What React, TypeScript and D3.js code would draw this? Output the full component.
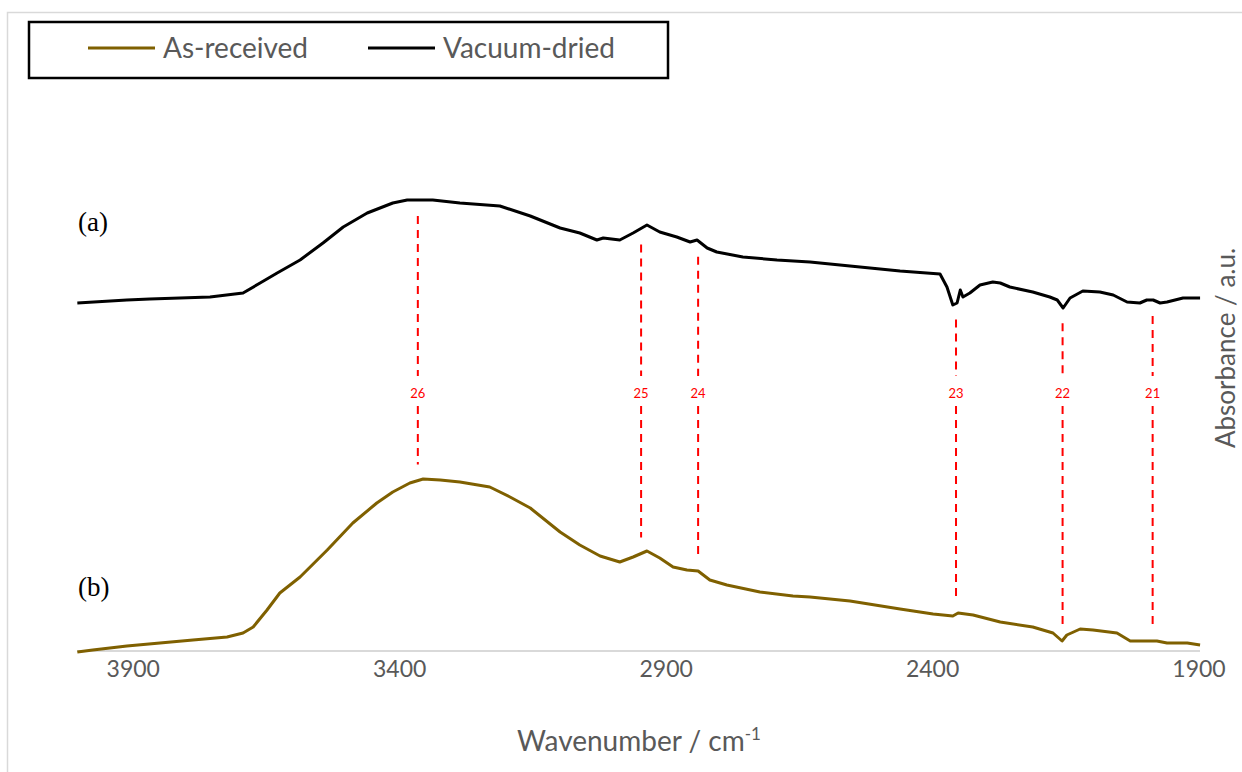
import React, { useEffect, useRef } from "react";
import * as d3 from "d3";

const width = 1242;
const height = 772;

// [wavenumber, absorbance (a.u., offset)]
const vacuumDried: [number, number][] = [
  [4005, 3.48], [3912, 3.51], [3869, 3.52], [3756, 3.54], [3694, 3.58],
  [3662, 3.68], [3630, 3.78], [3587, 3.91], [3544, 4.08], [3506, 4.24],
  [3461, 4.38], [3413, 4.48], [3386, 4.51], [3338, 4.51], [3287, 4.48],
  [3212, 4.45], [3155, 4.35], [3099, 4.23], [3062, 4.18], [3030, 4.11],
  [3018, 4.13], [2987, 4.11], [2962, 4.18], [2936, 4.26], [2912, 4.19],
  [2880, 4.14], [2855, 4.09], [2842, 4.11], [2823, 4.03], [2805, 3.99],
  [2756, 3.94], [2692, 3.91], [2630, 3.89], [2555, 3.85], [2461, 3.8],
  [2386, 3.77], [2373, 3.64], [2362, 3.46], [2354, 3.48], [2348, 3.61],
  [2343, 3.54], [2330, 3.58], [2311, 3.66], [2287, 3.69], [2273, 3.68],
  [2255, 3.64], [2212, 3.59], [2180, 3.54], [2166, 3.51], [2155, 3.43],
  [2142, 3.53], [2118, 3.6], [2086, 3.59], [2061, 3.56], [2035, 3.49],
  [2011, 3.48], [1998, 3.51], [1986, 3.51], [1973, 3.48], [1960, 3.49],
  [1930, 3.53], [1898, 3.53],
];

const asReceived: [number, number][] = [
  [4005, -0.01], [3976, 0.01], [3912, 0.05], [3850, 0.08], [3788, 0.11],
  [3724, 0.14], [3694, 0.18], [3675, 0.24], [3649, 0.41], [3625, 0.58],
  [3587, 0.74], [3536, 1.01], [3488, 1.28], [3443, 1.48], [3413, 1.59],
  [3381, 1.68], [3356, 1.72], [3324, 1.71], [3287, 1.69], [3231, 1.64],
  [3193, 1.54], [3155, 1.43], [3099, 1.19], [3062, 1.06], [3024, 0.95],
  [2987, 0.89], [2962, 0.94], [2936, 1.0], [2912, 0.93], [2887, 0.84],
  [2861, 0.81], [2840, 0.8], [2818, 0.71], [2786, 0.66], [2724, 0.59],
  [2662, 0.55], [2630, 0.54], [2555, 0.5], [2461, 0.42], [2399, 0.37],
  [2362, 0.35], [2352, 0.38], [2324, 0.36], [2273, 0.29], [2212, 0.24],
  [2174, 0.18], [2157, 0.1], [2148, 0.16], [2123, 0.22], [2099, 0.21],
  [2054, 0.18], [2029, 0.1], [1979, 0.1], [1960, 0.08], [1922, 0.08],
  [1898, 0.06],
];

const peakLabels = ["26", "25", "24", "23", "22", "21"];
const peakWavenumbers = [3366, 2947, 2840, 2356, 2156, 1987];

const xTicks = [3900, 3400, 2900, 2400, 1900];

const seriesNames = ["As-received", "Vacuum-dried"];
const seriesColors = ["#7f6000", "#000000"];

const x = d3.scaleLinear().domain([4000, 1900]).range([80, 1199]);
const y = d3.scaleLinear().domain([0, 4.6]).range([651, 191]);

function interp(data: [number, number][], w: number): number {
  for (let i = 0; i < data.length - 1; i++) {
    const [w0, a0] = data[i];
    const [w1, a1] = data[i + 1];
    if (w <= w0 && w >= w1) {
      const t = (w0 - w) / (w0 - w1);
      return a0 + t * (a1 - a0);
    }
  }
  return data[data.length - 1][1];
}

export default function App() {
  const ref = useRef<SVGSVGElement>(null);

  useEffect(() => {
    const svg = d3.select(ref.current);
    svg.selectAll("*").remove();

    const font = "Lato, 'Open Sans', sans-serif";

    // outer frame
    svg
      .append("rect")
      .attr("x", 7.5)
      .attr("y", 12.5)
      .attr("width", 1245)
      .attr("height", 775)
      .attr("fill", "none")
      .attr("stroke", "#d9d9d9")
      .attr("stroke-width", 1.5);

    // axis line
    svg
      .append("line")
      .attr("x1", 77)
      .attr("x2", 1200)
      .attr("y1", y(0))
      .attr("y2", y(0))
      .attr("stroke", "#d9d9d9")
      .attr("stroke-width", 2);

    // tick labels
    svg
      .append("g")
      .selectAll("text")
      .data(xTicks)
      .enter()
      .append("text")
      .attr("x", (d) => x(d))
      .attr("y", 677)
      .attr("text-anchor", "middle")
      .style("font-family", font)
      .style("font-size", "23px")
      .style("fill", "#595959")
      .text((d) => d);

    // axis titles
    const xt = svg
      .append("text")
      .attr("x", 639)
      .attr("y", 751)
      .attr("text-anchor", "middle")
      .style("font-family", font)
      .style("font-size", "28px")
      .style("fill", "#595959");
    xt.append("tspan").text("Wavenumber / cm");
    xt.append("tspan")
      .attr("dy", -11)
      .style("font-size", "17px")
      .text("-1");

    svg
      .append("text")
      .attr("transform", "translate(1235,348) rotate(-90)")
      .attr("text-anchor", "middle")
      .style("font-family", font)
      .style("font-size", "26px")
      .style("fill", "#595959")
      .text("Absorbance / a.u.");

    // peak markers
    const dash = svg.append("g");
    peakWavenumbers.forEach((w, i) => {
      const px = x(w);
      const top = y(interp(vacuumDried, w)) + 16;
      const bottom = y(interp(asReceived, w)) - 16;
      dash
        .append("line")
        .attr("x1", px)
        .attr("x2", px)
        .attr("y1", top)
        .attr("y2", 376)
        .attr("stroke", "#ff0000")
        .attr("stroke-width", 2)
        .attr("stroke-dasharray", "8,6");
      dash
        .append("line")
        .attr("x1", px)
        .attr("x2", px)
        .attr("y1", 406)
        .attr("y2", bottom)
        .attr("stroke", "#ff0000")
        .attr("stroke-width", 2)
        .attr("stroke-dasharray", "8,6");
      dash
        .append("text")
        .attr("x", px)
        .attr("y", 398)
        .attr("text-anchor", "middle")
        .style("font-family", font)
        .style("font-size", "13px")
        .style("fill", "#ff0000")
        .text(peakLabels[i]);
    });

    // spectra
    const line = d3
      .line<[number, number]>()
      .x((d) => x(d[0]))
      .y((d) => y(d[1]));

    [asReceived, vacuumDried].forEach((data, i) => {
      svg
        .append("path")
        .datum(data)
        .attr("fill", "none")
        .attr("stroke", seriesColors[i])
        .attr("stroke-width", 3)
        .attr("stroke-linejoin", "round")
        .attr("d", line);
    });

    // (a) / (b)
    svg
      .append("text")
      .attr("x", 78)
      .attr("y", 231)
      .style("font-family", "'Liberation Serif', 'DejaVu Serif', serif")
      .style("font-size", "27px")
      .text("(a)");
    svg
      .append("text")
      .attr("x", 78)
      .attr("y", 596)
      .style("font-family", "'Liberation Serif', 'DejaVu Serif', serif")
      .style("font-size", "27px")
      .text("(b)");

    // legend
    const legend = svg.append("g");
    legend
      .append("rect")
      .attr("x", 29)
      .attr("y", 22)
      .attr("width", 639)
      .attr("height", 56)
      .attr("fill", "#ffffff")
      .attr("stroke", "#000000")
      .attr("stroke-width", 2.5);
    const legendX = [88, 368];
    seriesNames.forEach((name, i) => {
      legend
        .append("line")
        .attr("x1", legendX[i])
        .attr("x2", legendX[i] + 67)
        .attr("y1", 48)
        .attr("y2", 48)
        .attr("stroke", seriesColors[i])
        .attr("stroke-width", 3);
      legend
        .append("text")
        .attr("x", legendX[i] + 75)
        .attr("y", 58)
        .style("font-family", font)
        .style("font-size", "28px")
        .style("fill", "#595959")
        .text(name);
    });
  }, []);

  return (
    <svg
      ref={ref}
      width={width}
      height={height}
      style={{ position: "absolute", left: 0, top: 0, background: "#fff" }}
    />
  );
}
